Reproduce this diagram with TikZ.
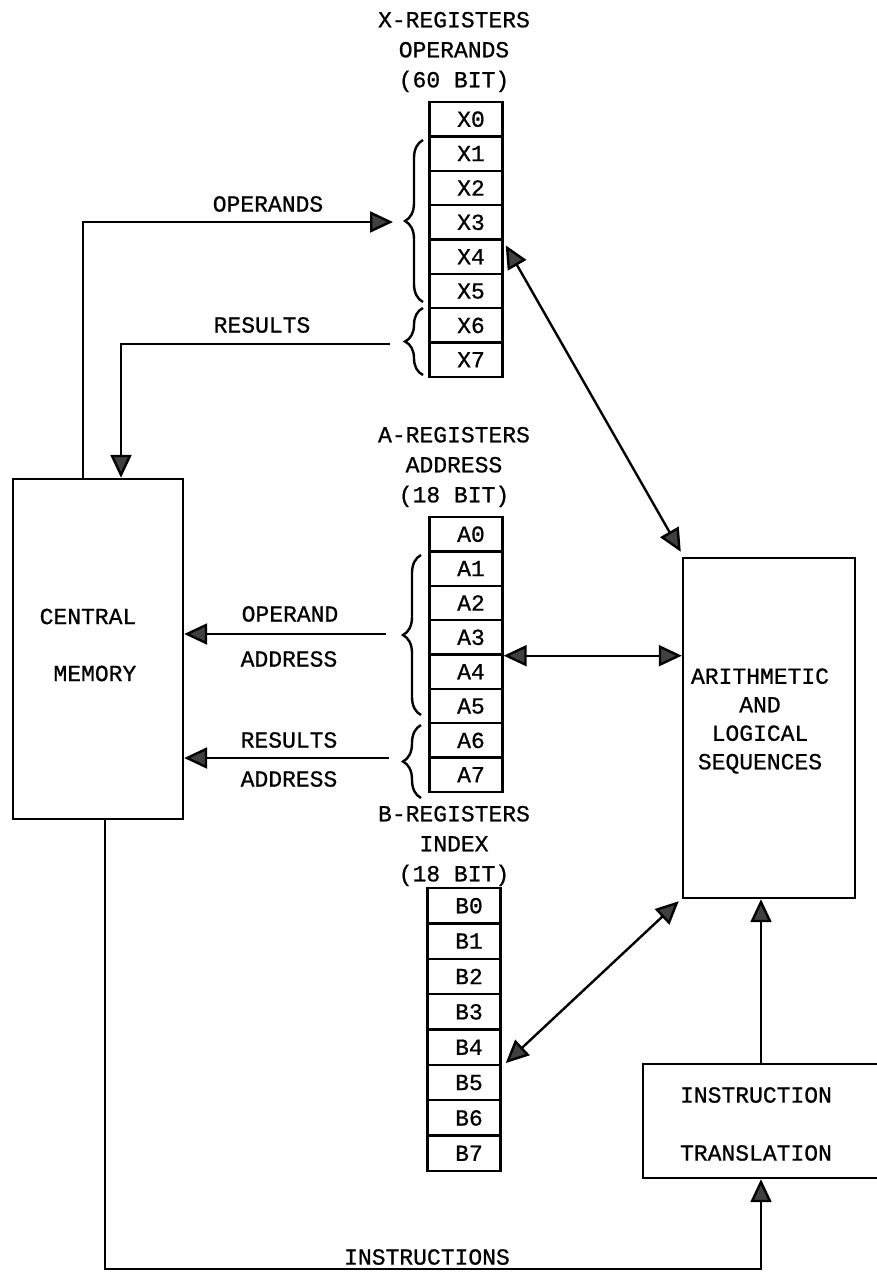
\documentclass[tikz,border=0pt]{standalone}
\usepackage{fontspec}
\setmainfont{Liberation Mono}[FakeBold=0.8]
\usetikzlibrary{arrows.meta,decorations.pathreplacing,calc}
\begin{document}
\begin{tikzpicture}[x=1pt,y=-1pt,
  ln/.style={line width=2.4pt},
  arr/.style={ln,-{Triangle[length=23pt,width=21pt,fill=black!75]}},
  darr/.style={ln,{Triangle[length=23pt,width=21pt,fill=black!75]}-{Triangle[length=23pt,width=21pt,fill=black!75]}},
  txt/.style={font=\fontsize{23}{28}\selectfont, inner sep=0pt},
  box/.style={draw, line width=2.4pt, inner sep=0pt},
  reg/.style={box, minimum width=73pt, font=\fontsize{23}{28}\selectfont, execute at begin node=\hspace*{10pt}},
  title/.style={inner sep=0pt, align=center, font=\fontsize{23}{30}\selectfont},
  brc/.style={ln, decorate, decoration={brace, amplitude=18pt}}
]
\useasboundingbox (0,0) rectangle (876,1272);

% register titles
\node[title] (xtitle) at (454,52) {X-REGISTERS\\OPERANDS\\(60 BIT)};
\node[title] (atitle) at (454,467) {A-REGISTERS\\ADDRESS\\(18 BIT)};
\node[title] (btitle) at (454,846) {B-REGISTERS\\INDEX\\(18 BIT)};

% register columns
\foreach \i in {0,...,7} {
  \node[reg, minimum height=34.375pt] (x\i) at (466,{102+34.375*(\i+0.5)}) {X\i};
  \node[reg, minimum height=34.375pt] (a\i) at (466,{517+34.375*(\i+0.5)}) {A\i};
  \node[reg, minimum height=35.375pt] (b\i) at (464,{888+35.375*(\i+0.5)}) {B\i};
}

% braces
\draw[brc] (423,302) -- (423,140);
\draw[brc] (423,375) -- (423,308);
\draw[brc] (421,715) -- (421,555);
\draw[brc] (421,798) -- (421,725);

% main boxes
\node[box, minimum width=170pt, minimum height=340pt] (mem) at (98,649) {};
\node[txt, align=right, font=\fontsize{23}{57}\selectfont] (memt) at (88,645) {CENTRAL\\MEMORY};
\node[box, minimum width=172pt, minimum height=340pt] (als) at (769,728) {};
\node[txt, align=center, font=\fontsize{23}{28.5}\selectfont] (alst) at (760,721) {ARITHMETIC\\AND\\LOGICAL\\SEQUENCES};
\node[box, minimum width=236pt, minimum height=114pt] (it) at (761,1121) {};
\node[txt, align=center, font=\fontsize{23}{58}\selectfont] (itt) at (756,1124) {INSTRUCTION\\TRANSLATION};

% labels
\node[txt] (lops) at (268,204) {OPERANDS};
\node[txt] (lres) at (262,325) {RESULTS};
\node[txt] (lopa1) at (290,614) {OPERAND};
\node[txt] (lopa2) at (289,659) {ADDRESS};
\node[txt] (lrea1) at (289,740) {RESULTS};
\node[txt] (lrea2) at (289,779) {ADDRESS};
\node[txt] (lins) at (427,1257) {INSTRUCTIONS};

% connectors
\coordinate (opL) at (83,222);
\coordinate (opR) at (393,222);
\draw[arr] (mem.north -| opL) -- (opL) -- (opR);
\coordinate (reR) at (390,344);
\coordinate (reL) at (121,344);
\draw[arr] (reR) -- (reL) -- (mem.north -| reL);
\coordinate (oaR) at (386,634);
\draw[arr] (oaR) -- (mem.east |- oaR);
\coordinate (raR) at (389,758);
\draw[arr] (raR) -- (mem.east |- raR);
\draw[darr] (a3.south east) -- (als.west |- a3.south east);
\draw[darr] ([xshift=2pt,yshift=-7pt]x4.north east) -- ([xshift=-1pt,yshift=5pt]als.north west);
\draw[darr] ([xshift=4pt,yshift=3pt]b4.south east) -- ([xshift=-3pt,yshift=-2pt]als.south west);
\draw[arr] (it.north) -- (it.north |- als.south);
\coordinate (bl) at (105,1269);
\coordinate (br) at (761,1269);
\draw[arr] (mem.south -| bl) -- (bl) -- (br) -- (it.south);
\end{tikzpicture}
\end{document}
